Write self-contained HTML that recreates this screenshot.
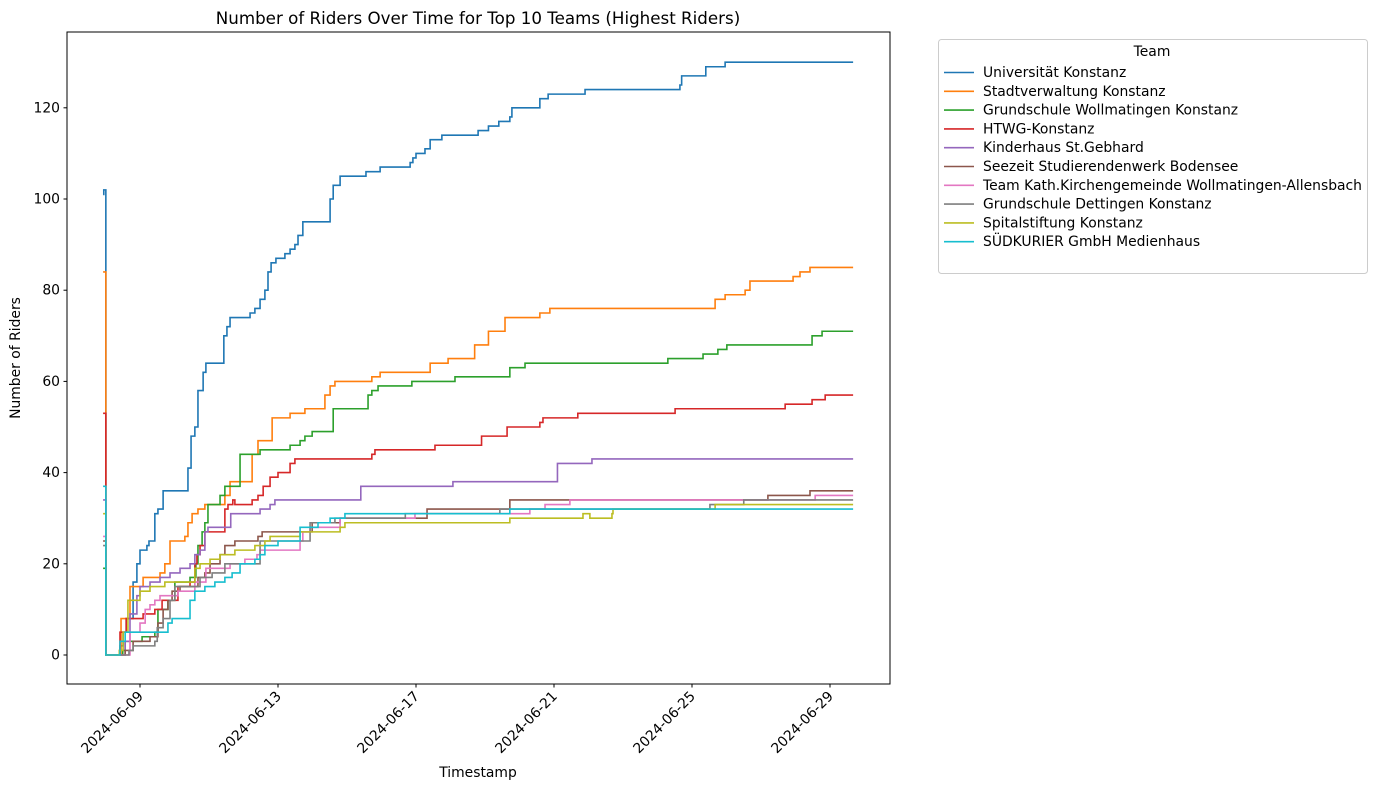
<!DOCTYPE html>
<html><head><meta charset="utf-8"><style>
body{margin:0;background:#fff;}
svg{display:block;font-family:"DejaVu Sans","Liberation Sans",sans-serif;}
</style></head><body>
<svg id="chart" width="1376" height="790" xmlns="http://www.w3.org/2000/svg">
<rect width="1376" height="790" fill="#fff"/>
<text x="478" y="24" text-anchor="middle" font-size="16.7">Number of Riders Over Time for Top 10 Teams (Highest Riders)</text>
<text x="478" y="777" text-anchor="middle" font-size="13.9">Timestamp</text>
<text x="20" y="358" text-anchor="middle" font-size="13.9" transform="rotate(-90 20 358)">Number of Riders</text>
<g id="plot"></g>
<rect x="67" y="32" width="823" height="652" fill="none" stroke="#000" stroke-width="1"/>
<g id="legend"></g>
</svg>
<script>
const teams = ["Universität Konstanz","Stadtverwaltung Konstanz","Grundschule Wollmatingen Konstanz","HTWG-Konstanz","Kinderhaus St.Gebhard","Seezeit Studierendenwerk Bodensee","Team Kath.Kirchengemeinde Wollmatingen-Allensbach","Grundschule Dettingen Konstanz","Spitalstiftung Konstanz","SÜDKURIER GmbH Medienhaus"];
const colors = ["#1f77b4","#ff7f0e","#2ca02c","#d62728","#9467bd","#8c564b","#e377c2","#7f7f7f","#bcbd22","#17becf"];
const yTicks = [0,20,40,60,80,100,120];
const xTickLabels = ["2024-06-09","2024-06-13","2024-06-17","2024-06-21","2024-06-25","2024-06-29"];
const xTickDays = [9,13,17,21,25,29];
// day-of-June (fractional), riders
const s0 = [[7.93,101],[7.95,102],[8.01,0],[8.33,0],[8.42,2],[8.51,5],[8.6,8],[8.8,16],[8.91,20],[9,23],[9.2,24],[9.26,25],[9.43,31],[9.52,32],[9.67,36],[10.16,36],[10.39,41],[10.48,48],[10.59,50],[10.68,58],[10.83,62],[10.91,64],[11.32,64],[11.43,70],[11.52,72],[11.61,74],[12.19,75],[12.33,76],[12.48,78],[12.62,80],[12.71,84],[12.8,86],[12.94,87],[13.2,88],[13.35,89],[13.49,90],[13.58,92],[13.72,95],[14.38,95],[14.51,100],[14.6,103],[14.8,105],[15.38,105],[15.55,106],[15.96,107],[16.83,108],[16.91,109],[17,110],[17.26,111],[17.41,113],[17.75,114],[18.33,114],[18.8,115],[19.1,116],[19.4,117],[19.72,118],[19.78,120],[20.59,122],[20.83,123],[21.9,124],[24.65,125],[24.7,127],[25.4,129],[25.96,130],[29.67,130]];
const s1 = [[7.93,84],[8.01,0],[8.4,0],[8.45,8],[8.71,15],[9.09,17],[9.58,18],[9.72,20],[9.87,25],[10.3,26],[10.39,29],[10.51,31],[10.68,32],[10.88,33],[11.46,35],[11.61,38],[12.04,38],[12.25,44],[12.42,47],[12.83,52],[13.35,53],[13.78,54],[14.36,57],[14.51,59],[14.65,60],[15.67,60],[15.72,61],[15.96,62],[17.26,62],[17.41,64],[17.93,65],[18.28,65],[18.7,68],[19.1,71],[19.58,74],[20.51,74],[20.59,75],[20.88,76],[25.58,76],[25.67,78],[25.96,79],[26.54,80],[26.68,82],[27.84,82],[27.93,83],[28.13,84],[28.42,85],[29.67,85]];
const s2 = [[7.93,19],[8.01,0],[8.4,0],[8.5,1],[8.57,3],[9.06,4],[9.43,5],[9.52,10],[9.81,12],[10.01,16],[10.45,17],[10.62,20],[10.68,24],[10.8,27],[10.88,29],[10.97,33],[11.32,35],[11.46,37],[11.81,37],[11.9,44],[12.33,44],[12.48,45],[13.35,46],[13.64,47],[13.78,48],[13.99,49],[14.6,54],[15.52,54],[15.61,57],[15.72,58],[15.9,59],[16.88,60],[18.13,61],[19.72,63],[20.16,64],[24.3,65],[24.94,65],[25.32,66],[25.75,67],[26.01,68],[28.48,70],[28.77,71],[29.67,71]];
const s3 = [[7.93,53],[8.01,0],[8.4,0],[8.42,5],[8.6,8],[9.09,9],[9.43,10],[9.64,12],[10.1,15],[10.45,16],[10.59,20],[10.65,22],[10.74,24],[10.88,27],[11.46,32],[11.55,33],[11.69,34],[11.75,33],[12.25,34],[12.42,35],[12.57,37],[12.77,39],[13,40],[13.35,42],[13.49,43],[15.61,43],[15.72,44],[15.81,45],[17.55,46],[18.42,46],[18.9,48],[19.64,50],[20.54,50],[20.59,51],[20.68,52],[21.69,53],[24.51,54],[27.7,55],[28.48,56],[28.86,57],[29.67,57]];
const s4 = [[7.93,34],[8.01,0],[8.4,0],[8.57,3],[8.71,9],[8.91,13],[9,15],[9.29,16],[9.58,17],[9.87,18],[10.16,19],[10.45,20],[10.59,22],[10.74,23],[10.88,27],[10.97,28],[11.61,28],[11.63,31],[12.19,31],[12.48,32],[12.77,33],[12.91,34],[15.38,34],[15.4,37],[17.99,37],[18.07,38],[21.04,38],[21.1,42],[21.9,42],[22.1,43],[29.67,43]];
const s5 = [[7.93,25],[8.01,0],[8.45,0],[8.57,1],[8.8,3],[9.29,4],[9.52,7],[9.67,10],[9.81,12],[9.93,14],[10.16,15],[10.68,17],[10.88,18],[11.03,20],[11.32,22],[11.46,24],[11.75,25],[12.33,25],[12.42,26],[12.54,27],[13.35,27],[13.99,29],[14.8,30],[17.32,32],[18.28,32],[19.72,34],[25.52,34],[27.2,35],[28.42,36],[29.67,36]];
const s6 = [[7.93,26],[8.01,0],[8.45,0],[8.71,5],[9,7],[9.15,10],[9.29,11],[9.43,12],[9.58,13],[10.01,13],[10.1,14],[10.59,16],[10.91,19],[11.61,20],[12.04,21],[12.39,22],[12.48,23],[13.64,25],[13.72,27],[13.93,28],[14.8,30],[16.83,30],[16.97,31],[20.3,32],[20.74,33],[21.46,34],[28.42,34],[28.57,35],[29.67,35]];
const s7 = [[7.93,24],[8.01,0],[8.55,0],[8.68,1],[8.8,2],[9.43,3],[9.5,6],[9.67,8],[9.87,12],[10.01,15],[10.59,15],[10.74,17],[11.09,18],[11.46,20],[12.33,20],[12.48,25],[13.64,25],[13.93,29],[14.65,30],[16.69,31],[19.43,32],[25.38,32],[25.52,33],[26.5,34],[29.67,34]];
const s8 = [[7.93,31],[8.01,0],[8.36,0],[8.4,1],[8.51,5],[8.65,12],[9,14],[9.29,15],[9.72,16],[10.59,19],[10.74,20],[11.03,21],[11.32,22],[11.75,23],[12.33,24],[12.62,25],[12.77,26],[13.64,27],[14.8,28],[14.94,29],[18.42,29],[19.72,30],[21.75,30],[21.84,31],[22.04,30],[22.62,30],[22.68,31],[22.71,32],[25.58,32],[25.67,33],[29.67,33]];
const s9 = [[7.93,37],[8.01,0],[8.27,0],[8.42,3],[8.57,5],[9.72,5],[9.81,7],[9.93,8],[10.36,8],[10.45,12],[10.59,14],[10.88,15],[11.17,16],[11.46,17],[11.67,18],[11.9,20],[12.33,21],[12.48,22],[12.62,24],[13,25],[13.64,28],[14.16,29],[14.51,30],[14.94,31],[19.72,32],[29.67,32]];
const series = [s0,s1,s2,s3,s4,s5,s6,s7,s8,s9];

const NS="http://www.w3.org/2000/svg";
function xs(d){return 140+(d-9)*34.5;}
function ys(v){return 655-v*4.56;}
function mk(tag,attrs,parent){const e=document.createElementNS(NS,tag);for(const k in attrs)e.setAttribute(k,attrs[k]);parent.appendChild(e);return e;}
const plot=document.getElementById('plot');
yTicks.forEach(v=>{
  const t=mk('line',{x1:63.5,x2:67,y1:ys(v),y2:ys(v),stroke:'#000'},plot);
  
  
  const l=mk('text',{x:60,y:ys(v)+4.5,'text-anchor':'end','font-size':13.9},plot);
  l.textContent=v;
  
  
});
xTickDays.forEach((d,i)=>{
  const x=xs(d);
  const t=mk('line',{x1:x,x2:x,y1:684,y2:687.5,stroke:'#000'},plot);
  
  
  const l=mk('text',{x:x+4,y:697,'text-anchor':'end','font-size':13.9,transform:`rotate(-45 ${x+4} 697)`},plot);
  l.textContent=xTickLabels[i];
  
  
});
series.forEach((s,i)=>{
  let d=`M${xs(s[0][0])},${ys(s[0][1])}`;
  for(let k=1;k<s.length;k++){d+=`H${xs(s[k][0])}V${ys(s[k][1])}`;}
  const p=mk('path',{d:d,fill:'none',stroke:colors[i],'stroke-width':1.6,'stroke-linejoin':'miter'},plot);
  
  
});
const lg=document.getElementById('legend');
const box=mk('rect',{x:938.5,y:39.5,width:429,height:234,rx:3,fill:'#fff',stroke:'#ccc'},lg);


const lt=mk('text',{x:1152,y:56,'text-anchor':'middle','font-size':13.9},lg);
lt.textContent='Team';


teams.forEach((t,i)=>{
  const y=72.5+i*18.8;
  const ln=mk('line',{x1:944,x2:974,y1:y,y2:y,stroke:colors[i],'stroke-width':1.6},lg);
  
  
  const tx=mk('text',{x:983,y:y+4.5,'font-size':13.9},lg);
  tx.textContent=t;
  
  
});
</script>
</body></html>
